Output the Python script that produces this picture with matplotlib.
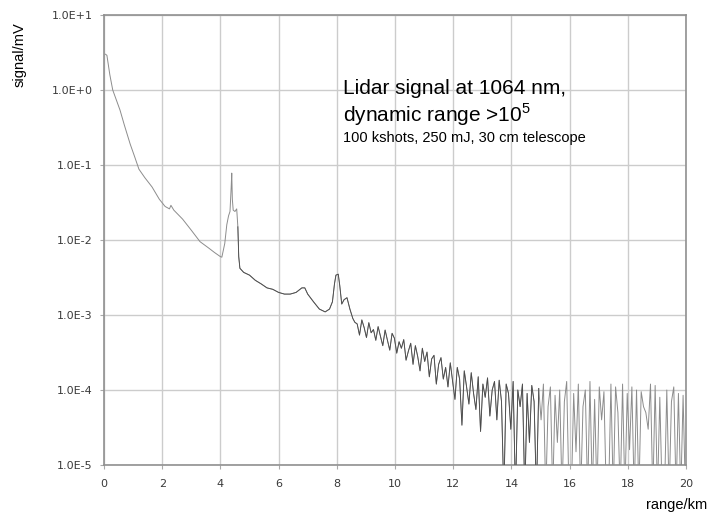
import numpy as np
import matplotlib
matplotlib.use("Agg")
import matplotlib.pyplot as plt
from matplotlib.ticker import FixedLocator, NullLocator

# ---------------- data ----------------
range_smooth = [0.05, 0.1, 0.2, 0.3, 0.4, 0.55, 0.7, 0.9, 1.05, 1.2, 1.4, 1.65,
                1.9, 2.1, 2.25, 2.3, 2.4, 2.7, 3.0, 3.3, 3.6, 3.8, 4.0, 4.05,
                4.15, 4.22, 4.28, 4.33, 4.37, 4.39, 4.41, 4.44, 4.5, 4.56, 4.6,
                4.63, 4.67, 4.8, 5.0, 5.2, 5.4, 5.6, 5.8, 6.0, 6.2, 6.4, 6.6,
                6.8, 6.9, 7.0, 7.2, 7.4, 7.6, 7.75, 7.85, 7.92, 7.97, 8.05,
                8.1, 8.17, 8.25, 8.35, 8.45, 8.55, 8.62]
signal_smooth = [3.0, 2.9, 1.6, 1.0, 0.78, 0.54, 0.34, 0.19, 0.13, 0.088, 0.068,
                 0.051, 0.035, 0.028, 0.026, 0.029, 0.025, 0.019, 0.0135, 0.0095,
                 0.0078, 0.0068, 0.0060, 0.0059, 0.009, 0.016, 0.021, 0.024,
                 0.05, 0.078, 0.035, 0.025, 0.024, 0.026, 0.015, 0.006, 0.0042,
                 0.0037, 0.0034, 0.0029, 0.0026, 0.0023, 0.0022, 0.0020, 0.0019,
                 0.0019, 0.0020, 0.0023, 0.0023, 0.0019, 0.0015, 0.0012, 0.0011,
                 0.0012, 0.0015, 0.0026, 0.0034, 0.0035, 0.0025, 0.0014, 0.0016,
                 0.0017, 0.0012, 0.0009, 0.0008]

range_noisy = [
    8.70, 8.78, 8.86, 8.94, 9.02, 9.10, 9.18, 9.26, 9.34, 9.42,
    9.50, 9.58, 9.66, 9.74, 9.82, 9.90, 9.98, 10.06, 10.14, 10.22,
    10.30, 10.38, 10.46, 10.54, 10.62, 10.70, 10.78, 10.86, 10.94, 11.02,
    11.10, 11.18, 11.26, 11.34, 11.42, 11.50, 11.58, 11.66, 11.74, 11.82,
    11.90, 11.98, 12.06, 12.14, 12.22, 12.30, 12.38, 12.46, 12.54, 12.62,
    12.70, 12.78, 12.86, 12.94, 13.02, 13.10, 13.18, 13.26, 13.34, 13.42,
    13.50, 13.58, 13.66, 13.74, 13.82, 13.90, 13.98, 14.06, 14.14, 14.22,
    14.30, 14.38, 14.46, 14.54, 14.62, 14.70, 14.78, 14.86, 14.94, 15.02,
    15.10, 15.18, 15.26, 15.34, 15.42, 15.50, 15.58, 15.66, 15.74, 15.82,
    15.90, 15.98, 16.06, 16.14, 16.22, 16.30, 16.38, 16.46, 16.54, 16.62,
    16.70, 16.78, 16.86, 16.94, 17.02, 17.10, 17.18, 17.26, 17.34, 17.42,
    17.50, 17.58, 17.66, 17.74, 17.82, 17.90, 17.98, 18.06, 18.14, 18.22,
    18.30, 18.38, 18.46, 18.54, 18.62, 18.70, 18.78, 18.86, 18.94, 19.02,
    19.10, 19.18, 19.26, 19.34, 19.42, 19.50, 19.58, 19.66, 19.74, 19.82,
    19.90, 19.98]
signal_noisy = [
    7.6e-4, 5.4e-4, 8.6e-4, 6.8e-4, 5.0e-4, 7.9e-4, 5.8e-4, 6.4e-4, 4.6e-4, 7.0e-4,
    5.2e-4, 3.9e-4, 6.3e-4, 4.6e-4, 3.4e-4, 5.7e-4, 4.9e-4, 3.1e-4, 4.4e-4, 3.6e-4,
    4.7e-4, 2.5e-4, 3.3e-4, 4.2e-4, 2.2e-4, 3.9e-4, 2.8e-4, 1.8e-4, 3.6e-4, 2.4e-4,
    3.2e-4, 1.5e-4, 2.6e-4, 2.9e-4, 1.2e-4, 2.2e-4, 2.7e-4, 1.4e-4, 2.0e-4, 1.1e-4,
    2.3e-4, 1.3e-4, 7.5e-5, 2.0e-4, 1.4e-4, 3.4e-5, 1.8e-4, 1.1e-4, 6.5e-5, 1.7e-4,
    9.0e-5, 5.5e-5, 1.5e-4, 2.8e-5, 1.2e-4, 8.0e-5, 1.45e-4, 4.5e-5, 1.0e-4, 1.3e-4,
    4.0e-5, 1.35e-4, 7.0e-5, 4e-6, 1.2e-4, 9.0e-5, 3.0e-5, 1.3e-4, 4e-6, 1.0e-4,
    6.0e-5, 1.2e-4, 4e-6, 9.0e-5, 2.0e-5, 1.15e-4, 7.0e-5, 4e-6, 1.05e-4, 4.0e-5,
    1.2e-4, 4e-6, 6.0e-5, 1.1e-4, 4e-6, 8.5e-5, 2.0e-5, 1.0e-4, 4e-6, 7.0e-5,
    1.3e-4, 4e-6, 4e-6, 9.0e-5, 1.5e-5, 1.2e-4, 4e-6, 6.0e-5, 1.0e-4, 4e-6,
    1.3e-4, 4e-6, 7.5e-5, 4e-6, 1.1e-4, 4.0e-5, 9.5e-5, 4e-6, 4e-6, 1.2e-4,
    4e-6, 1.1e-4, 5.0e-5, 4e-6, 1.2e-4, 4e-6, 9.0e-5, 1.6e-5, 1.1e-4, 4e-6,
    1.0e-4, 4e-6, 9.5e-5, 6.0e-5, 5.0e-5, 3.0e-5, 1.2e-4, 4e-6, 1.15e-4, 4e-6,
    8.0e-5, 4e-6, 4e-6, 1.0e-4, 4e-6, 7.0e-5, 1.1e-4, 4e-6, 9.0e-5, 4e-6,
    8.5e-5, 4e-6]

x_ticks = [0, 2, 4, 6, 8, 10, 12, 14, 16, 18, 20]
y_ticks = [1e1, 1e0, 1e-1, 1e-2, 1e-3, 1e-4, 1e-5]
y_tick_labels = ["1.0E+1", "1.0E+0", "1.0E-1", "1.0E-2", "1.0E-3", "1.0E-4", "1.0E-5"]

# ---------------- figure ----------------
fig = plt.figure(figsize=(7.12, 5.12), dpi=100)
ax = fig.add_axes([104 / 712, 47 / 512, 582 / 712, 450 / 512])

rng_all = np.array(range_smooth + range_noisy)
sig_all = np.array(signal_smooth + signal_noisy)

ax.plot(rng_all, sig_all, color="#8c8c8c", lw=0.7, zorder=3)
mask = (rng_all >= 4.6) & (rng_all <= 15.0)
ax.plot(rng_all[mask], sig_all[mask], color="#4a4a4a", lw=0.6, zorder=4)

ax.set_yscale("log")
ax.set_xlim(0, 20)
ax.set_ylim(1e-5, 1e1)
ax.xaxis.set_major_locator(FixedLocator(x_ticks))
ax.yaxis.set_major_locator(FixedLocator(y_ticks))
ax.yaxis.set_minor_locator(NullLocator())
ax.set_yticklabels(y_tick_labels)
ax.set_xticklabels([str(t) for t in x_ticks])

ax.grid(True, which="major", color="#cccccc", lw=1.0, zorder=0)
for s in ax.spines.values():
    s.set_color("#909090")
    s.set_linewidth(1.2)
ax.tick_params(axis="both", which="major", length=3, width=0.8, color="#aaaaaa",
               labelsize=8, labelcolor="#3a3a3a", pad=5)
ax.tick_params(axis="x", pad=7)

# axis labels
fig.text(20 / 712, 1 - 55 / 512, "signal/mV", rotation=90, ha="center", va="center",
         fontsize=10.5, family="Liberation Sans", color="black")
fig.text(646 / 712, 3 / 512, "range/km", ha="left", va="baseline",
         fontsize=10.5, family="Liberation Sans", color="black")

# annotation
fig.text(343 / 712, 1 - 94 / 512, "Lidar signal at 1064 nm,", ha="left", va="baseline",
         fontsize=15, family="Liberation Sans", color="black")
fig.text(343 / 712, 1 - 122 / 512, r"dynamic range >10$^{\mathregular{5}}$", ha="left",
         va="baseline", fontsize=15, family="Liberation Sans", color="black")
fig.text(343 / 712, 1 - 142 / 512, "100 kshots, 250 mJ, 30 cm telescope", ha="left",
         va="baseline", fontsize=10.5, family="Liberation Sans", color="black")

fig.savefig("out.png", dpi=100, facecolor="white")
